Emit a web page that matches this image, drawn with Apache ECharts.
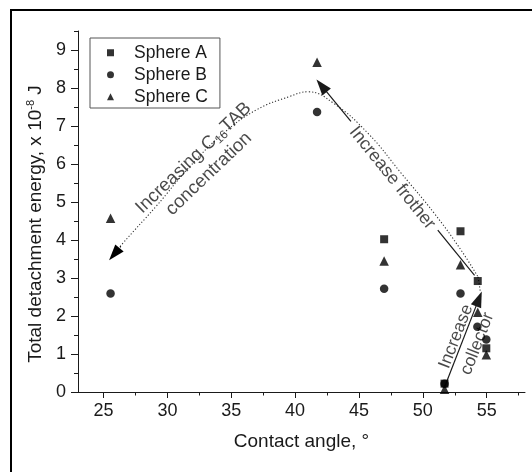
<!DOCTYPE html>
<html>
<head>
<meta charset="utf-8">
<script src="https://cdn.jsdelivr.net/npm/echarts@6/dist/echarts.min.js"></script>
<style>html,body{margin:0;padding:0;background:#fff}#c{width:532px;height:472px}</style>
</head>
<body>
<div id="c"></div>
<script>
// ---- data ----
const xMajor = [25, 30, 35, 40, 45, 50, 55];
const xMinor = [27.5, 32.5, 37.5, 42.5, 47.5, 52.5, 57.5];
const yMajor = [0, 1, 2, 3, 4, 5, 6, 7, 8, 9];
const yMinor = [0.5, 1.5, 2.5, 3.5, 4.5, 5.5, 6.5, 7.5, 8.5, 9.5];

const seriesNames = ['Sphere A', 'Sphere B', 'Sphere C'];
const sphereAX = [46.97, 52.95, 54.3, 54.97, 51.7];
const sphereAY = [4.02, 4.23, 2.92, 1.15, 0.22];
const sphereBX = [25.55, 41.72, 46.97, 52.95, 54.27, 54.97, 51.7];
const sphereBY = [2.59, 7.37, 2.72, 2.59, 1.72, 1.38, 0.22];
const sphereCX = [25.55, 41.72, 46.97, 52.95, 54.3, 54.97, 51.7];
const sphereCY = [4.57, 8.68, 3.45, 3.35, 2.1, 0.98, 0.07];

// annotation paths (data coordinates)
const curveX = [25.84, 26.5, 29.1, 31.75, 34.4, 37.0, 39.6, 41.0, 43.0, 45.7, 48.3, 50.9, 53.0, 54.32];
const curveY = [3.63, 3.91, 4.88, 5.93, 6.81, 7.43, 7.78, 7.9, 7.6, 6.81, 5.76, 4.70, 3.73, 3.03];
const curveTail = [[54.32, 3.03], [54.5, 2.65]];
const tabArrow = [[26.35, 3.83], [25.84, 3.63]];
const frotherLow = [[54.05, 3.07], [51.17, 4.26]];
const frotherHigh = [[44.37, 7.12], [42.07, 8.06]];
const collectorArrow = [[51.75, 0.17], [54.39, 2.45]];

const noteTexts = ['Increasing C{sub|16}TAB\nconcentration', 'Increase frother', 'Increase', 'collector'];
const notePos = [[32.65, 5.95], [47.6, 5.63], [52.61, 1.46], [54.27, 1.27]];
const noteAngle = [43.7, -51.2, 68.8, 68.8];
const noteSize = [18.5, 18, 17.5, 17.5];

const xName = 'Contact angle, °';
const yName = 'Total detachment energy, x 10{sup|-8} J';
// --------------------------------------

const FONT = '"Liberation Sans", Arial, Helvetica, sans-serif';
const INK = '#1a1a1a';
const zip = (xs, ys) => xs.map((x, i) => [x, ys[i]]);

const headItem = (c) => ({ coord: c, symbol: 'triangle', symbolSize: [11, 16] });
const segPlain = (seg, style) => [
  { coord: seg[0], symbol: 'none', lineStyle: style },
  { coord: seg[1], symbol: 'none', lineStyle: style }
];
const segHead = (seg, style) => [
  { coord: seg[0], symbol: 'none', lineStyle: style },
  Object.assign(headItem(seg[1]), { lineStyle: style })
];
const solid = { color: INK, width: 1.2, type: 'solid' };
const dotted = { color: '#333', width: 1.1, type: [1.2, 2] };
const dottedDark = { color: '#000', width: 1.1, type: [1.2, 2] };

const chart = echarts.init(document.getElementById('c'), null, { renderer: 'canvas' });

const commonText = { fontFamily: FONT, color: INK };

chart.setOption({
  animation: false,
  backgroundColor: '#fff',
  textStyle: { fontFamily: FONT },
  grid: { left: 78, right: 7, top: 31, bottom: 80, containLabel: false },
  legend: {
    orient: 'vertical',
    left: 90, top: 38,
    padding: [5.5, 12, 2, 17],
    itemWidth: 7, itemHeight: 7,
    itemGap: 3.5,
    borderColor: '#555', borderWidth: 1,
    selectedMode: false,
    textStyle: { fontSize: 17.5, lineHeight: 18.5, color: INK, fontFamily: FONT, padding: [0, 0, 0, 15] },
    data: [
      { name: seriesNames[0], icon: 'rect' },
      { name: seriesNames[1], icon: 'circle' },
      { name: seriesNames[2], icon: 'triangle' }
    ]
  },
  xAxis: [
    {
      type: 'value', min: 23, max: 58, position: 'bottom',
      name: xName, nameLocation: 'middle', nameGap: 40,
      nameTextStyle: Object.assign({ fontSize: 19 }, commonText),
      axisLine: { show: true, onZero: false, lineStyle: { color: INK, width: 1 } },
      axisTick: { show: true, customValues: xMajor, length: 6, lineStyle: { color: INK } },
      axisLabel: Object.assign({ customValues: xMajor, fontSize: 18, margin: 10 }, commonText),
      splitLine: { show: false }
    },
    {
      type: 'value', min: 23, max: 58, position: 'bottom',
      axisLine: { show: false, onZero: false },
      axisTick: { show: true, customValues: xMinor, length: 3.5, lineStyle: { color: INK } },
      axisLabel: { show: false },
      splitLine: { show: false }
    }
  ],
  yAxis: [
    {
      type: 'value', min: 0, max: 9.5, position: 'left',
      name: yName, nameLocation: 'middle', nameGap: 32, nameRotate: 90,
      nameTextStyle: Object.assign({ fontSize: 19, padding: [0, 25, 0, 0],
        rich: { sup: { fontSize: 11, padding: [0, 0, 10, 0], fontFamily: FONT, color: INK } } }, commonText),
      axisLine: { show: true, onZero: false, lineStyle: { color: INK, width: 1 } },
      axisTick: { show: true, customValues: yMajor, length: 7, lineStyle: { color: INK } },
      axisLabel: Object.assign({ customValues: yMajor, fontSize: 18, margin: 12 }, commonText),
      splitLine: { show: false }
    },
    {
      type: 'value', min: 0, max: 9.5, position: 'left',
      axisLine: { show: false, onZero: false },
      axisTick: { show: true, customValues: yMinor, length: 4, lineStyle: { color: INK } },
      axisLabel: { show: false },
      splitLine: { show: false }
    }
  ],
  graphic: [
    { type: 'rect', shape: { x: 11, y: 10, width: 600, height: 600 },
      style: { fill: 'none', stroke: '#000', lineWidth: 2 }, z: 100, silent: true }
  ],
  series: [
    {
      name: 'curve', type: 'line', data: zip(curveX, curveY), smooth: 0.45,
      showSymbol: false, symbol: 'none', silent: true, z: 1,
      lineStyle: dotted,
      markLine: {
        silent: true, animation: false, precision: 4,
        label: { show: false }, emphasis: { disabled: true },
        data: [
          segPlain(curveTail, dotted),
          segHead(tabArrow, dottedDark),
          segPlain(frotherLow, solid),
          segHead(frotherHigh, solid),
          segHead(collectorArrow, solid)
        ]
      }
    },
    {
      name: 'notes', type: 'scatter', symbol: 'circle', symbolSize: 1, silent: true, z: 3,
      itemStyle: { color: 'rgba(0,0,0,0)' },
      data: notePos.map((p, i) => ({
        value: p,
        label: {
          show: true, position: 'inside', rotate: noteAngle[i],
          formatter: noteTexts[i], fontSize: noteSize[i], lineHeight: 22,
          fontFamily: FONT, color: INK, align: 'center', verticalAlign: 'middle',
          rich: { sub: { fontSize: 12, padding: [9, 0, 0, 0], fontFamily: FONT, color: INK } }
        }
      }))
    },
    { name: seriesNames[0], type: 'scatter', symbol: 'rect', symbolSize: 8, z: 5,
      itemStyle: { color: '#000' }, data: zip(sphereAX, sphereAY) },
    { name: seriesNames[1], type: 'scatter', symbol: 'circle', symbolSize: 8.5, z: 5,
      itemStyle: { color: '#000' }, data: zip(sphereBX, sphereBY) },
    { name: seriesNames[2], type: 'scatter', symbol: 'triangle', symbolSize: 9.5, z: 5,
      itemStyle: { color: '#000' }, data: zip(sphereCX, sphereCY) }
  ]
});
</script>
</body>
</html>
